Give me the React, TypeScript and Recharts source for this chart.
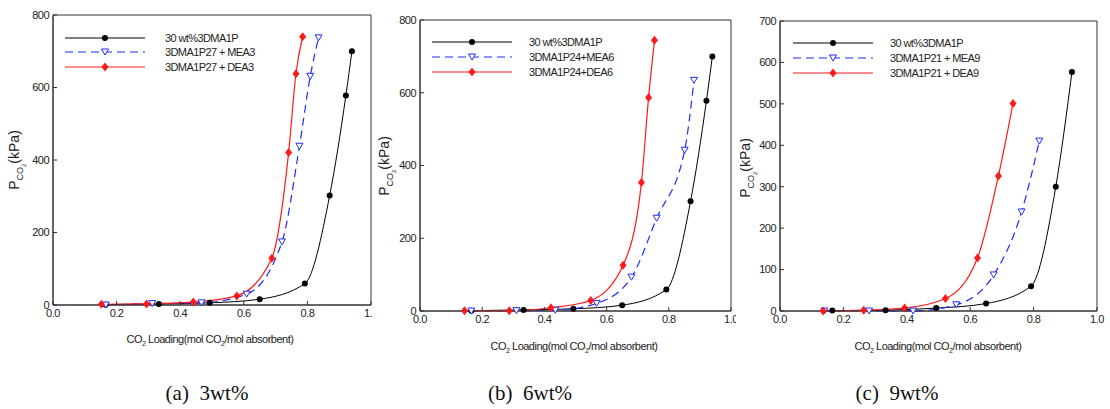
import React from 'react';
import { LineChart, Line, XAxis, YAxis, ReferenceArea } from 'recharts';

// tick values
const xTicks = [0, 0.2, 0.4, 0.6, 0.8, 1.0];
const yTicks800 = [0, 200, 400, 600, 800];
const yTicks700 = [0, 100, 200, 300, 400, 500, 600, 700];

// 30 wt% 3DMA1P (reference, same in all panels)
const refLoading = [0.165, 0.333, 0.493, 0.65, 0.792, 0.87, 0.921, 0.94];
const refPressure = [1, 3, 6, 16, 59, 302, 578, 700];

// (a) 3 wt%
const mea3Loading = [0.166, 0.312, 0.467, 0.609, 0.72, 0.775, 0.809, 0.835];
const mea3Pressure = [0, 4, 6, 30, 174, 438, 631, 737];
const dea3Loading = [0.152, 0.294, 0.441, 0.578, 0.688, 0.741, 0.764, 0.785];
const dea3Pressure = [2, 3, 8, 25, 129, 421, 638, 740];

// (b) 6 wt%
const mea6Loading = [0.165, 0.31, 0.435, 0.568, 0.68, 0.761, 0.851, 0.881];
const mea6Pressure = [0, 1, 2, 21, 93, 255, 442, 634];
const dea6Loading = [0.143, 0.287, 0.421, 0.549, 0.653, 0.712, 0.735, 0.754];
const dea6Pressure = [1, 1, 9, 29, 126, 353, 587, 744];

// (c) 9 wt%
const ref9Loading = [0.165, 0.333, 0.493, 0.65, 0.792, 0.87, 0.921];
const ref9Pressure = [1, 2, 7, 18, 60, 300, 577];
const mea9Loading = [0.14, 0.281, 0.42, 0.556, 0.674, 0.762, 0.818];
const mea9Pressure = [0, 0, 0, 15, 87, 239, 410];
const dea9Loading = [0.136, 0.264, 0.393, 0.522, 0.623, 0.689, 0.735];
const dea9Pressure = [0, 2, 7, 30, 128, 326, 501];

const legendA = ['30 wt%3DMA1P', '3DMA1P27 + MEA3', '3DMA1P27 + DEA3'];
const legendB = ['30 wt%3DMA1P', '3DMA1P24+MEA6', '3DMA1P24+DEA6'];
const legendC = ['30 wt%3DMA1P', '3DMA1P21 + MEA9', '3DMA1P21 + DEA9'];
const captions = ['(a)  3wt%', '(b)  6wt%', '(c)  9wt%'];

const zip = (xs: number[], ys: number[]) => xs.map((x, i) => ({ x, y: ys[i] }));

const FONT = '"Liberation Sans", Arial, sans-serif';
const BLACK = '#000000';
const BLUE = '#1f2bff';
const RED = '#ff1a1a';
const FRAME = '#333333';

const BlackDot = (p: any) => (
  <circle key={`b${p.index}`} cx={p.cx} cy={p.cy} r={3} fill={BLACK} />
);
const BlueDot = (p: any) => (
  <path
    key={`t${p.index}`}
    d={`M${p.cx - 3.5},${p.cy - 3} L${p.cx + 3.5},${p.cy - 3} L${p.cx},${p.cy + 3} Z`}
    fill="#fff"
    stroke={BLUE}
    strokeWidth={1}
  />
);
const RedDot = (p: any) => (
  <path
    key={`r${p.index}`}
    d={`M${p.cx},${p.cy - 4.5} L${p.cx + 3.5},${p.cy} L${p.cx},${p.cy + 4.5} L${p.cx - 3.5},${p.cy} Z`}
    fill={RED}
  />
);

const YTick = (p: any) => {
  const ax = p.x + 4;
  return (
    <g>
      <line x1={ax} x2={ax + 4} y1={p.y} y2={p.y} stroke={FRAME} />
      <text x={p.x} y={p.y} dy="0.35em" textAnchor="end" fontSize={11} fontFamily={FONT} fill="#222" letterSpacing={-0.5}>
        {p.payload.value}
      </text>
    </g>
  );
};

const XTick = (p: any) => {
  const ay = p.y - 4;
  return (
    <g>
      <line x1={p.x} x2={p.x} y1={ay} y2={ay - 4} stroke={FRAME} />
      <text x={p.x} y={p.y} dy="0.75em" textAnchor="middle" fontSize={11} fontFamily={FONT} fill="#222" letterSpacing={-0.5}>
        {Number(p.payload.value).toFixed(1)}
      </text>
    </g>
  );
};

const LegendRow = ({ y, color, dash, shape, label, lx, tx }: any) => (
  <g>
    <line x1={lx} x2={lx + 80} y1={y} y2={y} stroke={color} strokeWidth={1.2} strokeDasharray={dash} />
    {shape === 'circle' && <BlackDot cx={lx + 40} cy={y} index={0} />}
    {shape === 'tri' && <BlueDot cx={lx + 40} cy={y} index={0} />}
    {shape === 'dia' && <RedDot cx={lx + 40} cy={y} index={0} />}
    <text x={tx} y={y} dy="0.35em" fontSize={11} fontFamily={FONT} fill="#222" letterSpacing={-0.6}>
      {label}
    </text>
  </g>
);

function Panel(props: any) {
  const {
    left, clip, width, margin, yMax, yTicks, ref, mea, dea, legend, legendX, legendY, legendText,
    yLabel, xLabel,
  } = props;
  return (
    <div style={{ position: 'absolute', left, top: 0, width: clip, height: 360, overflow: 'hidden' }}>
      <LineChart width={width} height={340} margin={margin}>
        <XAxis
          type="number"
          dataKey="x"
          domain={[0, 1]}
          ticks={xTicks}
          height={20}
          tickSize={0}
          tickMargin={4}
          tick={<XTick />}
          axisLine={{ stroke: FRAME }}
          allowDuplicatedCategory={false}
        />
        <YAxis
          type="number"
          dataKey="y"
          domain={[0, yMax]}
          ticks={yTicks}
          width={40}
          tickSize={0}
          tickMargin={4}
          tick={<YTick />}
          axisLine={{ stroke: FRAME }}
        />
        <ReferenceArea x1={0} x2={1} y1={0} y2={yMax} fill="none" stroke={FRAME} strokeWidth={1} />
        <Line data={ref} dataKey="y" type="monotone" stroke={BLACK} strokeWidth={1} dot={BlackDot} isAnimationActive={false} />
        <Line data={mea} dataKey="y" type="monotone" stroke={BLUE} strokeWidth={1.2} strokeDasharray="8 5" dot={BlueDot} isAnimationActive={false} />
        <Line data={dea} dataKey="y" type="monotone" stroke={RED} strokeWidth={1.2} dot={RedDot} isAnimationActive={false} />
      </LineChart>
      <svg style={{ position: 'absolute', left: 0, top: 0 }} width={clip} height={100}>
        <LegendRow y={legendY[0]} color={BLACK} shape="circle" label={legend[0]} lx={legendX} tx={legendText} />
        <LegendRow y={legendY[1]} color={BLUE} dash="8 5" shape="tri" label={legend[1]} lx={legendX} tx={legendText} />
        <LegendRow y={legendY[2]} color={RED} shape="dia" label={legend[2]} lx={legendX} tx={legendText} />
      </svg>
      <div
        style={{
          position: 'absolute', left: yLabel[0], top: yLabel[1], transform: 'translate(-50%, -50%) rotate(-90deg)',
          whiteSpace: 'nowrap', fontFamily: FONT, fontSize: 14, color: '#222', lineHeight: '16px',
        }}
      >
        P<sub style={{ fontSize: 9, lineHeight: 0 }}>CO<sub style={{ fontSize: 6, lineHeight: 0 }}>2</sub></sub>(kPa)
      </div>
      <div
        style={{
          position: 'absolute', left: xLabel[0], top: xLabel[1], transform: 'translate(-50%, -50%)',
          whiteSpace: 'nowrap', fontFamily: FONT, fontSize: 11, color: '#222', letterSpacing: -0.5, lineHeight: '12px',
        }}
      >
        CO<sub style={{ fontSize: 7, lineHeight: 0 }}>2</sub> Loading(mol CO<sub style={{ fontSize: 7, lineHeight: 0 }}>2</sub>/mol absorbent)
      </div>
    </div>
  );
}

export default function App() {
  const captionStyle: React.CSSProperties = {
    position: 'absolute', top: 393, transform: 'translate(-50%, -50%)', whiteSpace: 'pre',
    fontFamily: '"Liberation Serif", "Times New Roman", serif', fontSize: 21, color: '#111',
  };
  return (
    <div style={{ position: 'absolute', left: 0, top: 0, width: 1110, height: 409, background: '#fff', overflow: 'hidden' }}>
      <Panel
        left={0} clip={372} width={380}
        margin={{ top: 15, right: 9, bottom: 15, left: 13 }}
        yMax={800} yTicks={yTicks800}
        ref={zip(refLoading, refPressure)} mea={zip(mea3Loading, mea3Pressure)} dea={zip(dea3Loading, dea3Pressure)}
        legend={legendA} legendX={65} legendY={[38, 52, 67]} legendText={165}
        yLabel={[15, 160]} xLabel={[210, 339]}
      />
      <Panel
        left={370} clip={366} width={372}
        margin={{ top: 20, right: 11, bottom: 9, left: 10 }}
        yMax={800} yTicks={yTicks800}
        ref={zip(refLoading, refPressure)} mea={zip(mea6Loading, mea6Pressure)} dea={zip(dea6Loading, dea6Pressure)}
        legend={legendB} legendX={62} legendY={[42, 57, 72]} legendText={159}
        yLabel={[15, 166]} xLabel={[204, 346]}
      />
      <Panel
        left={740} clip={370} width={370}
        margin={{ top: 21, right: 13, bottom: 9, left: 0 }}
        yMax={700} yTicks={yTicks700}
        ref={zip(ref9Loading, ref9Pressure)} mea={zip(mea9Loading, mea9Pressure)} dea={zip(dea9Loading, dea9Pressure)}
        legend={legendC} legendX={53} legendY={[43, 58, 73]} legendText={150}
        yLabel={[6, 168]} xLabel={[198, 346]}
      />
      <div style={{ ...captionStyle, left: 207 }}>{captions[0]}</div>
      <div style={{ ...captionStyle, left: 530 }}>{captions[1]}</div>
      <div style={{ ...captionStyle, left: 897 }}>{captions[2]}</div>
    </div>
  );
}
